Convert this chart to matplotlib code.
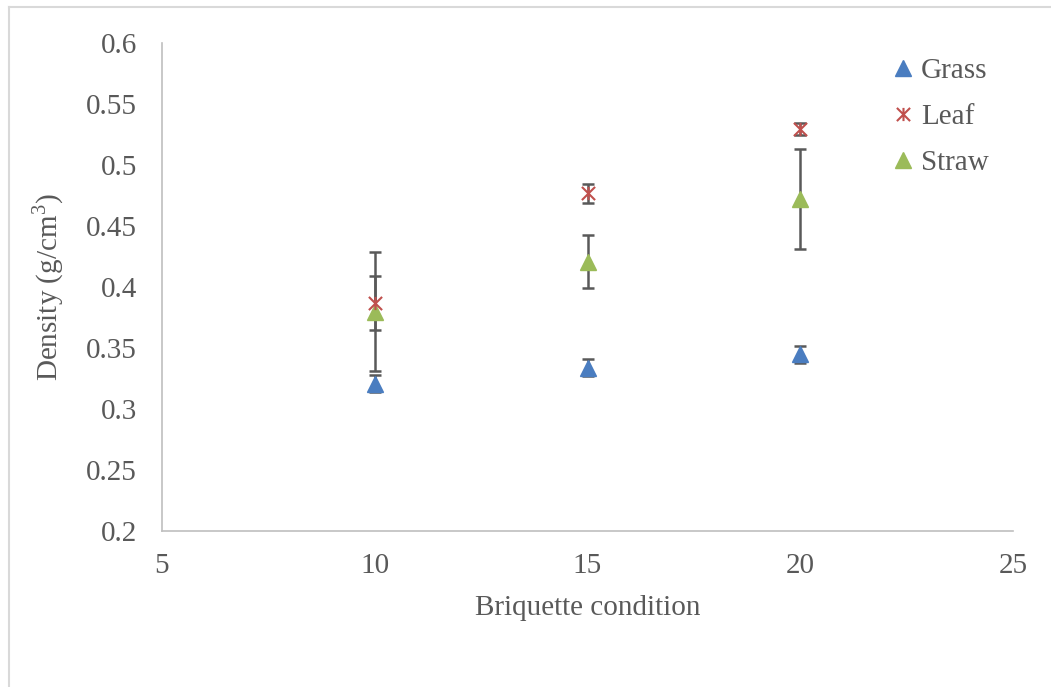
import matplotlib.pyplot as plt
from matplotlib.path import Path
from matplotlib.lines import Line2D

plt.rcParams['font.family'] = ['Liberation Serif', 'DejaVu Serif']
plt.rcParams['mathtext.fontset'] = 'custom'
plt.rcParams['mathtext.rm'] = 'Liberation Serif'

# data
conditions = [10, 15, 20]
grass = [0.321, 0.334, 0.345]
grass_err = [0.007, 0.007, 0.007]
leaf = [0.387, 0.477, 0.530]
leaf_err = [0.022, 0.008, 0.005]
straw = [0.380, 0.421, 0.472]
straw_err = [0.049, 0.022, 0.041]

txt = '#595959'
axc = '#bfbfbf'

# excel style star marker: x with a vertical bar
star = Path([(-1, -1), (1, 1), (-1, 1), (1, -1), (0, -1), (0, 1)],
            [Path.MOVETO, Path.LINETO, Path.MOVETO, Path.LINETO, Path.MOVETO, Path.LINETO])

fig = plt.figure(figsize=(10.51, 6.87), dpi=100)
ax = fig.add_axes([0.154, 0.227, 0.81, 0.71])

# error bars first so markers sit on top
for vals, errs in [(grass, grass_err), (straw, straw_err), (leaf, leaf_err)]:
    ax.errorbar(conditions, vals, yerr=errs, fmt='none', ecolor='#595959',
                elinewidth=1.8, capsize=4.5, capthick=1.8, zorder=2)

ax.plot(conditions, grass, linestyle='none', marker='^', markersize=11,
        color='#4a7dc0', label='Grass', zorder=3)
ax.plot(conditions, leaf, linestyle='none', marker=star, markersize=9.5,
        markeredgewidth=1.5, color='#c0504d', label='Leaf', zorder=4)
ax.plot(conditions, straw, linestyle='none', marker='^', markersize=11,
        color='#9bbb59', label='Straw', zorder=3)

ax.set_xlim(5, 25)
ax.set_ylim(0.2, 0.6)
ax.set_xticks([5, 10, 15, 20, 25])
ax.set_yticks([0.2, 0.25, 0.3, 0.35, 0.4, 0.45, 0.5, 0.55, 0.6])
ax.set_yticklabels(['0.2', '0.25', '0.3', '0.35', '0.4', '0.45', '0.5', '0.55', '0.6'])
ax.tick_params(length=0, labelsize=21, colors=txt)
ax.tick_params(axis='y', pad=18)
ax.tick_params(axis='x', pad=16)
for s in ['top', 'right']:
    ax.spines[s].set_visible(False)
for s in ['left', 'bottom']:
    ax.spines[s].set_color(axc)
    ax.spines[s].set_linewidth(1.2)

ax.set_xlabel('Briquette condition', fontsize=21, color=txt, labelpad=11)
ax.set_ylabel('Density (g/cm$^3$)', fontsize=21, color=txt, labelpad=14)

leg = ax.legend(loc='upper right', bbox_to_anchor=(0.985, 0.995), frameon=False,
                fontsize=21, handletextpad=0.1, labelspacing=0.67,
                handlelength=1.0, borderaxespad=0.0)
for t in leg.get_texts():
    t.set_color(txt)

# outer chart frame (top and left edges visible)
fig.add_artist(Line2D([9 / 1051, 1], [1 - 7 / 687, 1 - 7 / 687], color='#d9d9d9', lw=1.5))
fig.add_artist(Line2D([9 / 1051, 9 / 1051], [0, 1 - 7 / 687], color='#d9d9d9', lw=1.5))

fig.savefig('out.png', dpi=100)
